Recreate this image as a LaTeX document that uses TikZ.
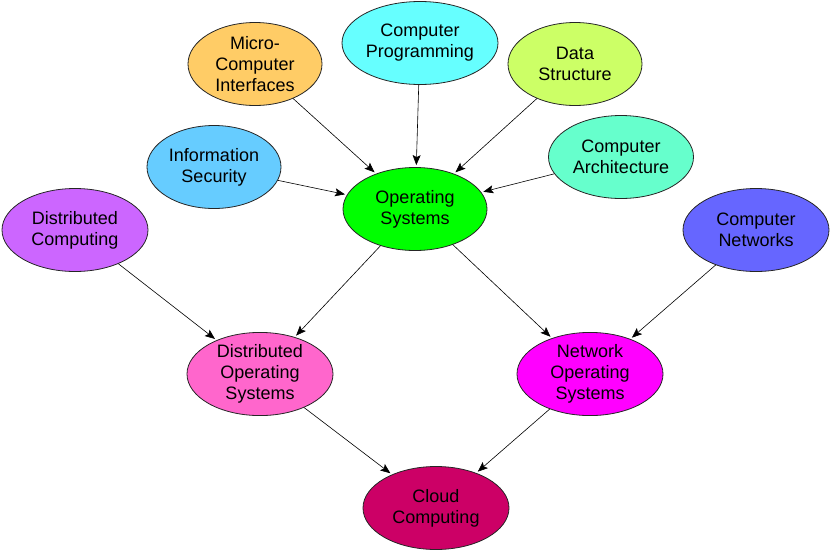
\documentclass[tikz,border=0pt]{standalone}
\usepackage{fontspec}
\setmainfont{Liberation Sans}
\usetikzlibrary{shapes.geometric,arrows.meta}
\definecolor{cOrange}{HTML}{FFCC66}
\definecolor{cCyan}{HTML}{66FFFF}
\definecolor{cLime}{HTML}{CCFF66}
\definecolor{cSky}{HTML}{66CCFF}
\definecolor{cMint}{HTML}{66FFCC}
\definecolor{cGreen}{HTML}{00FF00}
\definecolor{cViolet}{HTML}{CC66FF}
\definecolor{cBlue}{HTML}{6666FF}
\definecolor{cPink}{HTML}{FF66CC}
\definecolor{cMagenta}{HTML}{FF00FF}
\definecolor{cCrimson}{HTML}{CC0066}
\tikzset{
  topic/.style={ellipse, draw=black!85, line width=0.8pt, inner sep=0pt,
    minimum height=83pt, align=center, font=\fontsize{18}{21}\selectfont},
  link/.style={line width=0.6pt, -{Stealth[length=10pt,width=8pt,inset=2pt]}, shorten >=2pt}
}
\begin{document}
\begin{tikzpicture}[x=1pt,y=-1pt]
\useasboundingbox (0,0) rectangle (830,552);
\node[topic, fill=cOrange, minimum width=134pt] (micro) at (255,64) {Micro-\\Computer\\Interfaces};
\node[topic, fill=cCyan, minimum width=156pt] (prog) at (420,43) {Computer\\Programming};
\node[topic, fill=cLime, minimum width=134pt] (data) at (575,64) {Data\\Structure};
\node[topic, fill=cSky, minimum width=134pt] (sec) at (214,167) {Information\\Security};
\node[topic, fill=cMint, minimum width=145pt] (arch) at (621,157) {Computer\\Architecture};
\node[topic, fill=cGreen, minimum width=144pt] (os) at (415,209) {Operating\\Systems};
\node[topic, fill=cViolet, minimum width=146pt] (dc) at (75,230) {Distributed\\Computing};
\node[topic, fill=cBlue, minimum width=146pt] (net) at (756,230) {Computer\\Networks};
\node[topic, fill=cPink, minimum width=146pt] (dos) at (260,374) {Distributed\\Operating\\Systems};
\node[topic, fill=cMagenta, minimum width=146pt] (nos) at (590,374) {Network\\Operating\\Systems};
\node[topic, fill=cCrimson, minimum width=146pt] (cloud) at (436,508) {Cloud\\Computing};
\draw[link] (micro) -- (os);
\draw[link] (prog) -- (os);
\draw[link] (data) -- (os);
\draw[link] (sec) -- (os);
\draw[link] (arch) -- (os);
\draw[link] (os) -- (dos);
\draw[link] (os) -- (nos);
\draw[link] (dc) -- (dos);
\draw[link] (net) -- (nos);
\draw[link] (dos) -- (cloud);
\draw[link] (nos) -- (cloud);
\end{tikzpicture}
\end{document}
